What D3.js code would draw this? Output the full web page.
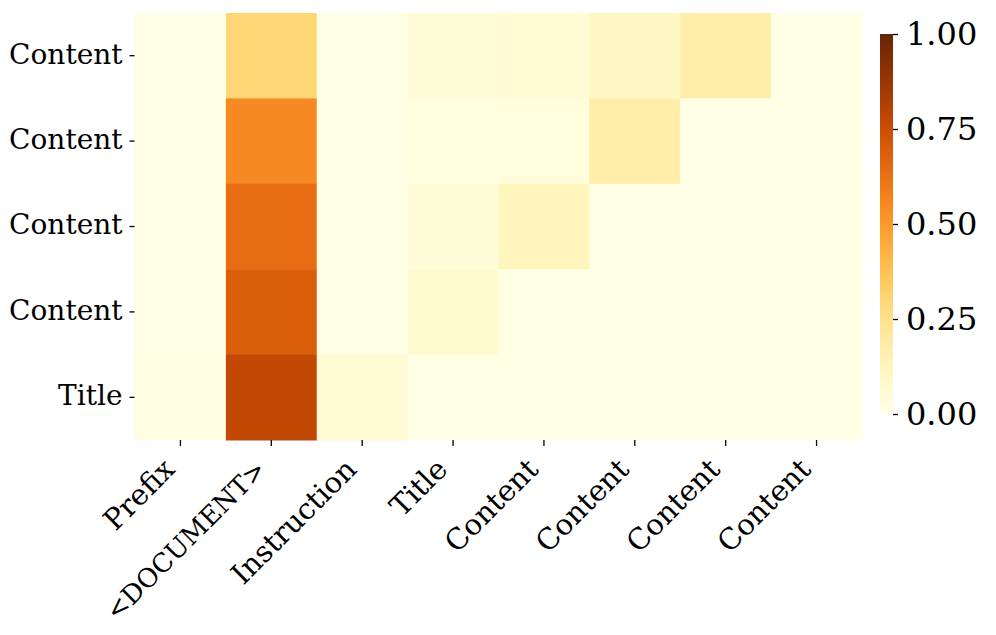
<!DOCTYPE html>
<html>
<head>
<meta charset="utf-8">
<script src="https://cdn.jsdelivr.net/npm/d3@7"></script>
<style>
  body { margin: 0; background: #fff; }
  text { font-family: "DejaVu Serif", serif; fill: #000; }
</style>
</head>
<body>
<div id="chart"></div>
<script>
var width = 996, height = 635;

// categories
var xLabels = ["Prefix", "<DOCUMENT>", "Instruction", "Title", "Content", "Content", "Content", "Content"];
var yLabels = ["Content", "Content", "Content", "Content", "Title"];
// attention values, one array per row (top to bottom)
var row0 = [0.00, 0.30, 0.00, 0.04, 0.05, 0.10, 0.18, 0.00];
var row1 = [0.00, 0.55, 0.00, 0.02, 0.03, 0.18, 0.00, 0.00];
var row2 = [0.00, 0.64, 0.00, 0.04, 0.12, 0.00, 0.00, 0.00];
var row3 = [0.00, 0.69, 0.00, 0.07, 0.00, 0.00, 0.00, 0.00];
var row4 = [0.01, 0.77, 0.05, 0.00, 0.00, 0.00, 0.00, 0.00];
var rows = [row0, row1, row2, row3, row4];
var cbTicks = [0, 0.25, 0.5, 0.75, 1];

var mLeft = 135, mRight = 862, mTop = 13, mBottom = 440;
var cbX = 880, cbW = 13, cbTop = 34, cbBottom = 414;

var svg = d3.select("#chart").append("svg")
  .attr("width", width)
  .attr("height", height);

// band scales indexed by position (labels repeat)
var x = d3.scaleBand().domain(d3.range(xLabels.length)).range([mLeft, mRight]).padding(0);
var y = d3.scaleBand().domain(d3.range(yLabels.length)).range([mTop, mBottom]).padding(0);
var color = d3.scaleSequential(d3.interpolateYlOrBr).domain([0, 1]);

var cells = [];
rows.forEach(function(r, i) {
  r.forEach(function(v, j) { cells.push({ r: i, c: j, v: v }); });
});

svg.append("g").selectAll("rect")
  .data(cells).enter()
  .append("rect")
  .attr("x", function(d) { return x(d.c); })
  .attr("y", function(d) { return y(d.r); })
  .attr("width", x.bandwidth() + 0.5)
  .attr("height", y.bandwidth() + 0.5)
  .attr("fill", function(d) { return color(d.v); });

// y axis
var yAxis = svg.append("g")
  .attr("transform", "translate(" + (mLeft - 0.5) + ",0)")
  .call(d3.axisLeft(y).tickSize(5).tickPadding(7).tickFormat(function(i) { return yLabels[i]; }));
yAxis.select(".domain").remove();
yAxis.selectAll("line").attr("stroke", "#000").attr("stroke-width", 1.3);
yAxis.selectAll("text").attr("font-size", 28).attr("font-family", "DejaVu Serif").attr("fill", "#000")
  .attr("dy", "0.28em");

// x axis
var xAxis = svg.append("g")
  .attr("transform", "translate(0," + mBottom + ")")
  .call(d3.axisBottom(x).tickSize(6).tickFormat(function(i) { return xLabels[i]; }));
xAxis.select(".domain").remove();
xAxis.selectAll("line").attr("stroke", "#000").attr("stroke-width", 1.3);
xAxis.selectAll("text")
  .attr("font-size", function(i) { return xLabels[i] === "<DOCUMENT>" ? 26 : 29; })
  .attr("font-family", "DejaVu Serif")
  .attr("text-anchor", "end")
  .attr("dy", 0)
  .attr("y", 0)
  .attr("transform", "translate(-4,31) rotate(-45)")
  .attr("fill", function(i) { return xLabels[i] === "<DOCUMENT>" ? "#ff0000" : "#000"; });

// colorbar
var defs = svg.append("defs");
var grad = defs.append("linearGradient")
  .attr("id", "cbgrad")
  .attr("x1", 0).attr("y1", 1).attr("x2", 0).attr("y2", 0);
d3.range(0, 1.0001, 0.05).forEach(function(t) {
  grad.append("stop").attr("offset", t).attr("stop-color", color(t));
});
svg.append("rect")
  .attr("x", cbX).attr("y", cbTop)
  .attr("width", cbW).attr("height", cbBottom - cbTop)
  .attr("fill", "url(#cbgrad)");

var cbScale = d3.scaleLinear().domain([0, 1]).range([cbBottom, cbTop]);
var cbAxis = svg.append("g")
  .attr("transform", "translate(" + (cbX + cbW) + ",0)")
  .call(d3.axisRight(cbScale).tickValues(cbTicks).tickSize(5).tickPadding(8).tickFormat(d3.format(".2f")));
cbAxis.select(".domain").remove();
cbAxis.selectAll("line").attr("stroke", "#000").attr("stroke-width", 1.3);
cbAxis.selectAll("text").attr("font-size", 32).attr("font-family", "DejaVu Serif").attr("fill", "#000");
</script>
</body>
</html>
